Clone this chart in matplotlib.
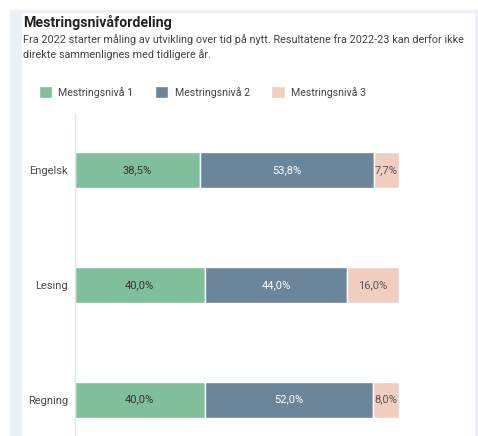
import matplotlib.pyplot as plt
from matplotlib.patches import Rectangle

plt.rcParams['font.family'] = ['Roboto', 'DejaVu Sans']

categories = ['Engelsk', 'Lesing', 'Regning']
series_names = ['Mestringsnivå 1', 'Mestringsnivå 2', 'Mestringsnivå 3']
nivaa1 = [38.5, 40.0, 40.0]
nivaa2 = [53.8, 44.0, 52.0]
nivaa3 = [7.7, 16.0, 8.0]

colors = ['#7fbf9b', '#6b869b', '#f0cfc0']
label_colors = ['#333333', '#ffffff', '#555555']

W, H = 478, 436
fig = plt.figure(figsize=(W / 100, H / 100), dpi=100)
fig.patch.set_facecolor('white')


def fx(px):
    return px / W


def fy(py):
    return 1 - py / H


# background panel and white card
fig.patches.append(Rectangle((fx(10), 0), 1, fy(10), transform=fig.transFigure,
                             facecolor='#edf0f5', edgecolor='none', zorder=-2))
fig.patches.append(Rectangle((fx(22), 0), fx(475) - fx(22), fy(13), transform=fig.transFigure,
                             facecolor='white', edgecolor='none', zorder=-1))

fig.text(fx(23), fy(22), 'Mestringsnivåfordeling', fontsize=10.2, fontweight='bold',
         color='#222222', va='center', ha='left')
fig.text(fx(23), fy(40), 'Fra 2022 starter måling av utvikling over tid på nytt. Resultatene fra 2022-23 kan derfor ikke',
         fontsize=7.85, color='#444444', va='center', ha='left')
fig.text(fx(23), fy(55), 'direkte sammenlignes med tidligere år.',
         fontsize=7.85, color='#444444', va='center', ha='left')

# axes: x from 75 to 399 px, y from 113 to 457 px (extends below the image)
ax_left, ax_right = 75, 399
ax_top, ax_bot = 113, 457
ax = fig.add_axes([fx(ax_left), fy(ax_bot), fx(ax_right) - fx(ax_left), (ax_bot - ax_top) / H])
ax.set_facecolor('none')
ax.set_zorder(2)

ypos = list(range(len(categories)))
left = [0, 0, 0]
handles = []
for vals, name, c, lc in zip([nivaa1, nivaa2, nivaa3], series_names, colors, label_colors):
    bars = ax.barh(ypos, vals, left=left, height=0.315, color=c, edgecolor='white',
                   linewidth=1, label=name)
    ax.bar_label(bars, labels=[f'{v:.1f}%'.replace('.', ',') for v in vals],
                 label_type='center', fontsize=8, color=lc)
    left = [a + b for a, b in zip(left, vals)]
    handles.append(bars)

ax.set_xlim(0, 100)
ax.set_ylim(2.5, -0.5)
ax.set_yticks(ypos)
ax.set_yticklabels(categories, fontsize=8, color='#4a4a4a')
ax.tick_params(axis='y', length=0, pad=5)
ax.set_xticks([])
for s in ['top', 'right', 'bottom']:
    ax.spines[s].set_visible(False)
ax.spines['left'].set_color('#dde4f2')
ax.spines['left'].set_linewidth(1)

fig.legend(handles=handles, loc='center left', bbox_to_anchor=(fx(29), fy(92)),
           ncol=3, frameon=False, fontsize=7.7, handlelength=1.25, handleheight=1.25,
           handletextpad=0.6, columnspacing=2.0, labelcolor='#444444')

fig.savefig('out.png', dpi=100)
